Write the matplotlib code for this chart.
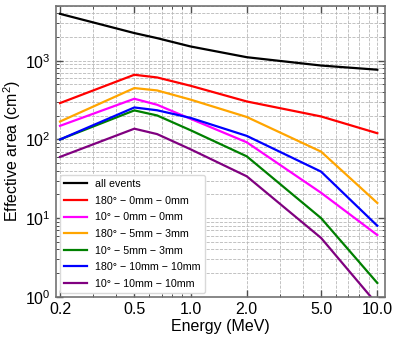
import matplotlib
matplotlib.use('Agg')
import matplotlib.pyplot as plt
from matplotlib.ticker import FixedLocator, NullFormatter, LogLocator

plt.rcParams['font.family'] = ['Liberation Sans', 'DejaVu Sans']
plt.rcParams['mathtext.fontset'] = 'custom'
plt.rcParams['mathtext.rm'] = 'Liberation Sans'

energy = [0.2, 0.5, 0.662, 1.0, 2.0, 5.0, 10.0]

labels = ['all events',
          '180° − 0mm − 0mm',
          '10° − 0mm − 0mm',
          '180° − 5mm − 3mm',
          '10° − 5mm − 3mm',
          '180° − 10mm − 10mm',
          '10° − 10mm − 10mm']
colors = ['black', 'red', 'magenta', 'orange', 'green', 'blue', 'purple']

all_events = [3950, 2250, 1940, 1520, 1110, 870, 770]
a180_0_0 = [290, 664, 614, 481, 304, 196, 120]
a10_0_0 = [149, 329, 276, 183, 92, 21, 6.1]
a180_5_3 = [169, 450, 420, 321, 193, 70, 15.6]
a10_5_3 = [100, 234, 202, 131, 61, 10, 1.5]
a180_10_10 = [100, 255, 235, 188, 111, 39, 8.0]
a10_10_10 = [60, 137, 117, 75, 34, 5.6, 0.8]

series = [all_events, a180_0_0, a10_0_0, a180_5_3, a10_5_3, a180_10_10, a10_10_10]

fig = plt.figure(figsize=(3.99, 3.40), dpi=100)
ax = fig.add_axes([0.140, 0.127, 0.825, 0.856])

for vals, c, lab in zip(series, colors, labels):
    ax.plot(energy, vals, color=c, lw=1.6, label=lab)

ax.set_xscale('log')
ax.set_yscale('log')
ax.set_xlim(0.19, 11)
ax.set_ylim(1, 5000)

ax.xaxis.set_major_locator(FixedLocator([0.2, 0.5, 1.0, 2.0, 5.0, 10.0]))
ax.set_xticklabels(['0.2', '0.5', '1.0', '2.0', '5.0', '10.0'])
ax.xaxis.set_minor_locator(FixedLocator([0.3, 0.4, 0.6, 0.7, 0.8, 0.9,
                                         3, 4, 6, 7, 8, 9]))
ax.xaxis.set_minor_formatter(NullFormatter())
ax.yaxis.set_minor_locator(LogLocator(base=10, subs=range(2, 10)))
ax.yaxis.set_minor_formatter(NullFormatter())

ax.tick_params(which='both', direction='in', top=True, right=True,
               color='0.3', labelsize=11.5)
ax.tick_params(which='major', length=5, width=1)
ax.tick_params(which='minor', length=2.5, width=0.7)

ax.grid(True, which='both', ls='--', color='0.72', lw=0.6)
for s in ax.spines.values():
    s.set_color('0.45')
    s.set_linewidth(1.2)

ax.set_xlabel('Energy (MeV)', fontsize=11.5, labelpad=2)
ax.set_ylabel('Effective area (cm$^2$)', fontsize=11.5, labelpad=2)

leg = ax.legend(loc='lower left', fontsize=7.7, frameon=True, fancybox=True,
                edgecolor='0.85', framealpha=1, handlelength=2.2,
                borderaxespad=0.35, labelspacing=0.62, handletextpad=0.7)

fig.savefig('out.png', dpi=100)
